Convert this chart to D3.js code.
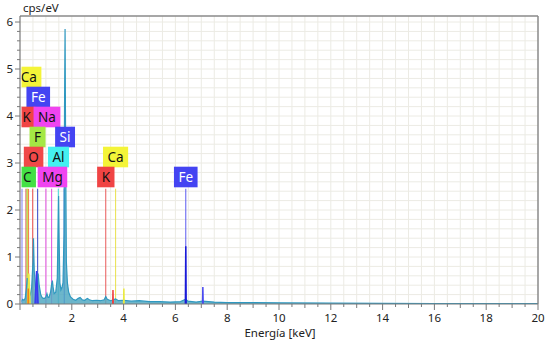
<!DOCTYPE html>
<html><head><meta charset="utf-8">
<script src="https://cdn.jsdelivr.net/npm/d3@7"></script>
<style>body{margin:0;background:#fff}svg{display:block}text{font-family:"Noto Sans","Open Sans",sans-serif}</style>
</head><body><svg id="c" width="550" height="345"></svg>
<script>
// ---- data ----
const spectrumE = [0.00,0.05,0.10,0.15,0.20,0.25,0.28,0.31,0.35,0.40,0.45,0.50,0.52,0.55,0.60,0.65,0.70,0.74,0.80,0.85,0.90,0.95,1.00,1.04,1.08,1.12,1.18,1.22,1.25,1.28,1.32,1.38,1.44,1.47,1.49,1.51,1.54,1.58,1.62,1.66,1.70,1.72,1.74,1.76,1.79,1.83,1.88,1.95,2.05,2.15,2.25,2.32,2.40,2.50,2.60,2.68,2.80,2.95,3.10,3.25,3.31,3.37,3.50,3.60,3.69,3.80,4.00,4.30,4.60,5.00,5.40,5.80,6.20,6.35,6.40,6.48,6.80,7.05,7.50,8.00,9.00,10.00,12.00,14.00,16.00,18.00,20.00];
const spectrumCps = [0.04,0.06,0.10,0.08,0.12,0.35,0.55,0.40,0.25,0.20,0.35,0.90,1.40,0.70,0.35,0.45,0.65,0.40,0.20,0.14,0.12,0.12,0.15,0.22,0.14,0.14,0.25,0.42,0.50,0.35,0.22,0.25,0.55,1.60,2.30,1.40,0.45,0.30,0.35,0.45,1.50,4.20,5.85,3.50,0.90,0.45,0.25,0.15,0.10,0.08,0.12,0.14,0.09,0.08,0.12,0.09,0.07,0.08,0.07,0.09,0.16,0.10,0.07,0.09,0.11,0.07,0.08,0.06,0.07,0.05,0.05,0.04,0.05,0.09,0.10,0.06,0.04,0.06,0.04,0.03,0.03,0.025,0.02,0.015,0.01,0.01,0.01];

// element-coloured fitted peaks
const peakE     = [0.34, 0.32, 0.64, 3.59, 4.01, 6.40, 7.06];
const peakCps   = [0.65, 0.33, 0.70, 0.30, 0.33, 1.23, 0.36];
const peakWidth = [0.05, 0.01, 0.06, 0.01, 0.01, 0.015, 0.012];
const peakColor = ["#eaea40","#f08020","#3a3af0","#f04040","#eaea40","#1a1ad8","#4a4af0"];

// element marker lines
const markerE     = [0.07, 0.23, 0.277, 0.28, 0.33, 0.49, 0.677, 0.68, 1.00, 1.22, 1.48, 1.71, 3.31, 3.69, 6.40];
const markerColor = ["#3030e8","#e84040","#40d040","#e8e040","#f07030","#e84040","#90e040","#4040f0","#e040e0","#e040e0","#30d8d8","#3030e8","#e85050","#e8e040","#5050f0"];
const markerTop = 2.45;

// element labels
const labelText  = ["Ca","Fe","K","Na","F","Si","O","Al","C","Mg","Ca","K","Fe"];
const labelE     = [0.341,0.705,0.26,1.041,0.677,1.74,0.525,1.486,0.277,1.253,3.69,3.313,6.40];
const labelRow   = [0,1,2,2,3,3,4,4,5,5,4,5,5];
const labelFill  = ["#f4f438","#4444f2","#f04444","#f044f0","#a4e844","#4444f2","#f04848","#44f0f0","#44e044","#f044f0","#f4f438","#f04444","#4444f2"];
const labelInk   = ["#111","#fff","#111","#111","#111","#fff","#111","#111","#111","#111","#111","#111","#fff"];

const xTickLabels = [2,4,6,8,10,12,14,16,18,20];
const yTickLabels = [0,1,2,3,4,5,6];

// ---- layout ----
const svg = d3.select("#c");
const x = d3.scaleLinear().domain([0,20]).range([20,538]);
const y = d3.scaleLinear().domain([0,6.128]).range([304,16]);

svg.append("defs").append("clipPath").attr("id","clip")
  .append("rect").attr("x",x(0)+1.5).attr("y",y.range()[1]).attr("width",x(20)-x(0)-1.5).attr("height",y(0)-y.range()[1]);

// grid
const g = svg.append("g");
g.selectAll(".vg").data(d3.range(0.5,20,0.5)).join("line")
  .attr("x1",d=>x(d)).attr("x2",d=>x(d)).attr("y1",y(0)).attr("y2",y.range()[1])
  .attr("stroke","#ecebe4").attr("stroke-width",1);
g.selectAll(".hg").data(d3.range(1,31).map(i=>i*0.2)).join("line")
  .attr("x1",x(0)).attr("x2",x(20)).attr("y1",d=>y(d)).attr("y2",d=>y(d))
  .attr("stroke","#ecebe4").attr("stroke-width",1);

const plot = svg.append("g").attr("clip-path","url(#clip)");

// marker lines
plot.selectAll(".mk").data(markerE).join("line")
  .attr("x1",d=>x(d)).attr("x2",d=>x(d)).attr("y1",y(markerTop)).attr("y2",y(0))
  .attr("stroke",(d,i)=>markerColor[i]).attr("stroke-width",1.1).attr("opacity",0.85);

// spectrum
const pts = spectrumE.map((e,i)=>[e,spectrumCps[i]]);
plot.append("path").datum(pts)
  .attr("d",d3.area().x(d=>x(d[0])).y0(y(0)).y1(d=>y(d[1])))
  .attr("fill","#52a9c2").attr("fill-opacity",0.85);
plot.append("path").datum(pts)
  .attr("d",d3.line().x(d=>x(d[0])).y(d=>y(d[1])))
  .attr("fill","none").attr("stroke","#2f98c0").attr("stroke-width",1.2);

// coloured peaks
peakE.forEach((e,i)=>{
  const tri=[[e-peakWidth[i],0],[e,peakCps[i]],[e+peakWidth[i],0]];
  plot.append("path").datum(tri)
    .attr("d",d3.line().x(d=>x(d[0])).y(d=>y(d[1])))
    .attr("fill",peakColor[i]).attr("fill-opacity",0.8)
    .attr("stroke",peakColor[i]).attr("stroke-width",1.5);
});

// labels
const rowTop = r => 66.7 + r*20;
const lab = plot.selectAll(".lab").data(labelText).join("g");
lab.each(function(t,i){
  const gg = d3.select(this);
  const txt = gg.append("text").text(t).attr("font-size","13.5px").attr("fill",labelInk[i])
    .attr("text-anchor","middle").attr("x",x(labelE[i])).attr("y",rowTop(labelRow[i])+15);
  const w = txt.node().getComputedTextLength()+9;
  gg.insert("rect","text").attr("x",x(labelE[i])-w/2).attr("y",rowTop(labelRow[i]))
    .attr("width",w).attr("height",20.6).attr("fill",labelFill[i]);
});

// frame
svg.append("line").attr("x1",x(0)).attr("x2",x(20)).attr("y1",y.range()[1]).attr("y2",y.range()[1]).attr("stroke","#8a8a8a").attr("stroke-width",1.5);
svg.append("line").attr("x1",x(20)).attr("x2",x(20)).attr("y1",y.range()[1]).attr("y2",y(0)).attr("stroke","#8a8a8a").attr("stroke-width",1.5);

// axes
const xAxis = svg.append("g").attr("transform",`translate(0,${y(0)})`);
xAxis.append("line").attr("x1",x(0)).attr("x2",x(20)).attr("stroke","#7a7a7a").attr("stroke-width",1.2);
xAxis.selectAll(".xt").data(d3.range(0,20.01,0.5)).join("line")
  .attr("x1",d=>x(d)).attr("x2",d=>x(d)).attr("y1",0)
  .attr("y2",d=> d%2===0?6:(d%1===0?4:3)).attr("stroke","#7a7a7a");
xAxis.selectAll(".xl").data(xTickLabels).join("text")
  .attr("x",d=>x(d)).attr("y",18).attr("text-anchor","middle")
  .attr("font-size","11.5px").attr("fill","#222").text(d=>d);
svg.append("text").attr("x",280).attr("y",337).attr("text-anchor","middle")
  .attr("font-size","11.5px").attr("fill","#222").text("Energía [keV]");

const yAxis = svg.append("g").attr("transform",`translate(${x(0)},0)`);
yAxis.append("line").attr("y1",y(0)).attr("y2",y.range()[1]).attr("stroke","#7a7a7a").attr("stroke-width",1.2);
yAxis.selectAll(".yt").data(d3.range(0,31).map(i=>i*0.2)).join("line")
  .attr("y1",d=>y(d)).attr("y2",d=>y(d)).attr("x1",0)
  .attr("x2",(d,i)=> i%5===0?-5:-3).attr("stroke","#7a7a7a");
yAxis.selectAll(".yl").data(yTickLabels).join("text")
  .attr("x",-7).attr("y",d=>y(d)+4).attr("text-anchor","end")
  .attr("font-size","11.5px").attr("fill","#222").text(d=>d);
svg.append("text").attr("x",23).attr("y",12).attr("font-size","11.5px").attr("fill","#222").text("cps/eV");
</script></body></html>
